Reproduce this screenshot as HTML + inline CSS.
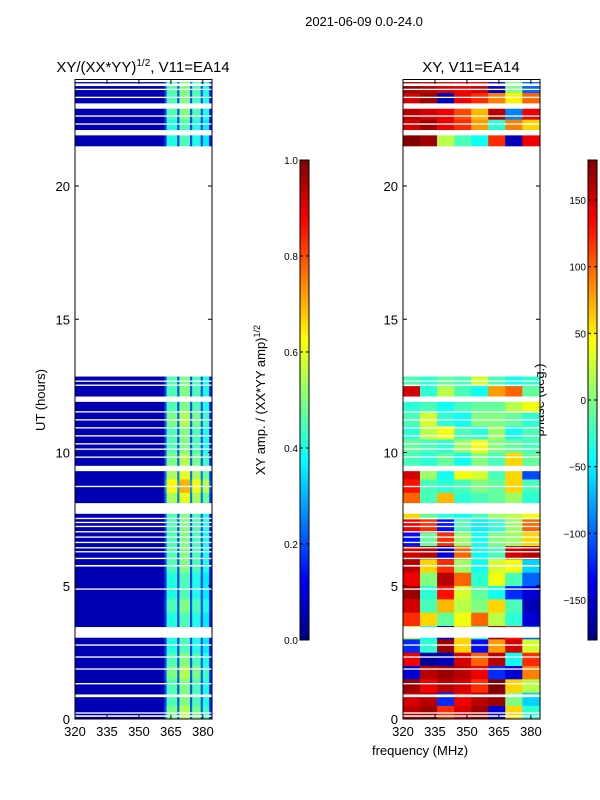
<!DOCTYPE html>
<html><head><meta charset="utf-8"><style>
body{margin:0;background:#fff;}
svg{display:block;font-family:"Liberation Sans",sans-serif;}
</style></head><body>
<svg id="fig" width="600" height="800" xmlns="http://www.w3.org/2000/svg">
<text x="364" y="26" font-size="13" text-anchor="middle">2021-06-09 0.0-24.0</text>
<text x="143" y="72" font-size="15" text-anchor="middle">XY/(XX*YY)<tspan font-size="10" dy="-6">1/2</tspan><tspan dy="6">, V11=EA14</tspan></text>
<text x="471" y="72" font-size="15" text-anchor="middle">XY, V11=EA14</text>
<text transform="translate(45,400) rotate(-90)" font-size="13" text-anchor="middle">UT (hours)</text>
<text transform="translate(265,400) rotate(-90)" font-size="13" text-anchor="middle">XY amp. / (XX*YY amp)<tspan font-size="9" dy="-5">1/2</tspan></text>
<text transform="translate(544,400) rotate(-90)" font-size="13" text-anchor="middle">phase (deg.)</text>
<text x="420" y="755" font-size="13" text-anchor="middle">frequency (MHz)</text>
<g id="layer"></g>
</svg>
<script>
const hourRows=[0,0.5,1,1.5,2,2.5,3,3.5,4,4.5,5,5.5,6,6.5,7,7.5,8,8.5,9,9.5,10,10.5,11,11.5,12,12.5,21.5,22,22.5,23,23.5];
const phaseGrid=[
[160,170,120,150,170,-150,60,-30],[150,160,-120,140,160,170,0,-60],[170,140,160,150,120,180,60,20],
[-150,160,170,160,140,-120,-150,90],[140,-170,-160,150,100,160,-40,120],[-120,-30,170,60,-130,80,150,30],
[20,-40,-150,60,-20,170,130,-100],[120,60,-10,40,100,20,-30,-150],[150,-20,70,20,0,60,-20,-160],
[170,-30,130,30,-10,-40,-120,-150],[140,0,160,100,-30,40,-20,-100],[160,60,120,10,-40,30,40,-60],
[150,160,-150,100,-40,-20,150,160],[-130,-10,120,10,-40,0,10,60],[140,120,-130,-20,-50,-30,10,100],
[60,-10,-30,-40,-20,10,20,40],[100,-20,70,-30,-20,-10,10,-30],[130,-20,-30,-20,0,-10,60,-20],
[150,10,-40,40,30,-20,60,-110],[-20,-30,-10,-40,0,-20,60,-10],[-10,-20,-30,10,40,0,-10,-20],
[-30,20,40,-20,-30,10,-40,-20],[-20,30,-30,-40,0,0,-10,-30],[-30,-20,-40,-20,-10,-10,20,40],
[150,-30,20,-20,-40,80,100,-10],[-20,-30,-10,-20,30,-20,-40,-30],[180,170,20,-20,-40,120,-160,140],
[150,170,140,120,80,-30,90,60],[160,150,140,110,70,160,-90,140],[150,170,-160,140,120,90,50,100],
[170,160,150,140,150,-150,0,-100]];
const ampRowFactor=[1.1,1.0,1.0,1.1,1.0,0.9,0.9,0.9,1.0,0.9,0.9,1.0,1.0,1.0,1.0,1.0,1.2,1.4,1.2,1.1,1.0,1.0,1.1,1.0,1.0,1.0,0.9,0.9,1.0,1.0,1.0];
const ampChanStarts=[320,362,363,368,369,374,375,379,380,383];
const ampChanValues=[0.05,0.2,0.45,0.2,0.5,0.2,0.45,0.2,0.4,0.15];
const phaseChanStarts=[320,328,336,344,352,360,368,376];
const gaps=[[0.08,0.14],[0.2,0.25],[0.82,0.92],[1.3,1.35],[1.85,1.9],[2.3,2.35],[2.75,2.8],[3.05,3.45],[4.85,4.9],[5.72,5.78],[6.0,6.05],[6.25,6.3],[6.4,6.45],[6.6,6.65],[6.8,6.85],[7.0,7.05],[7.2,7.25],[7.35,7.4],[7.5,7.55],[7.7,8.1],[8.7,8.75],[9.3,9.5],[9.8,9.85],[10.1,10.15],[10.3,10.35],[10.6,10.65],[10.9,10.95],[11.2,11.25],[11.5,11.55],[11.9,12.1],[12.5,12.55],[12.65,12.7],[21.9,22.1],[22.3,22.35],[22.6,22.65],[22.9,23.1],[23.3,23.35],[23.6,23.65],[23.75,23.85]];
const blocks=[[0,12.85],[21.3,23.9]];
const xTicks=[320,335,350,365,380];
const yTicks=[0,5,10,15,20];
const ampTicks=[0.0,0.2,0.4,0.6,0.8,1.0];
const phaseTicks=[-150,-100,-50,0,50,100,150];

const NS="http://www.w3.org/2000/svg";
const layer=document.getElementById('layer');
function mk(t,a,p){const e=document.createElementNS(NS,t);for(const k in a)e.setAttribute(k,a[k]);(p||layer).appendChild(e);return e;}
function jet(v){v=Math.max(0,Math.min(1,v));const r=Math.max(0,Math.min(1,1.5-Math.abs(4*v-3))),g=Math.max(0,Math.min(1,1.5-Math.abs(4*v-2))),b=Math.max(0,Math.min(1,1.5-Math.abs(4*v-1)));return `rgb(${Math.round(r*255)},${Math.round(g*255)},${Math.round(b*255)})`;}
const yScale=h=>719-h*(719-79.4)/24;
const panels=[{x0:75,name:'amp'},{x0:403,name:'phase'}];
const fMin=320,fMax=384.3,pw=137;
panels.forEach(p=>{
  const xs=f=>p.x0+(f-fMin)*pw/(fMax-fMin);
  const g=mk('g',{});
  
  
  hourRows.forEach((h,ri)=>{
    const starts=p.name==='amp'?ampChanStarts:phaseChanStarts;
    starts.forEach((f,ci)=>{
      const fe=ci+1<starts.length?starts[ci+1]:fMax;
      blocks.forEach(b=>{
        const a=Math.max(h,b[0]),e=Math.min(h+0.5,b[1]);
        if(e<=a)return;
        const v=p.name==='amp'?ampChanValues[ci]*(ci>0?ampRowFactor[ri]:1):(phaseGrid[ri][ci]+180)/360;
        const r=mk('rect',{x:xs(f),y:yScale(e),width:xs(fe)-xs(f)+0.3,height:yScale(a)-yScale(e)+0.3,fill:jet(v)},g);
        
        
      });
    });
  });
  gaps.forEach(gp=>{const r=mk('rect',{x:p.x0,y:yScale(gp[1]),width:pw,height:yScale(gp[0])-yScale(gp[1]),fill:'#fff'},g);
    
    });
  const fr=mk('rect',{x:p.x0,y:79.5,width:pw,height:639.5,fill:'none',stroke:'#000','stroke-width':1});
  
  
  xTicks.forEach(t=>{const x=xs(t);
    mk('line',{x1:x,x2:x,y1:719,y2:715,stroke:'#000'});mk('line',{x1:x,x2:x,y1:80,y2:84,stroke:'#000'});
    const tx=mk('text',{x:x,y:736,'font-size':13,'text-anchor':'middle'});tx.textContent=t;
    
    });
  yTicks.forEach(t=>{const y=yScale(t);
    mk('line',{x1:p.x0,x2:p.x0+4,y1:y,y2:y,stroke:'#000'});mk('line',{x1:p.x0+pw,x2:p.x0+pw-4,y1:y,y2:y,stroke:'#000'});
    const tx=mk('text',{x:p.x0-5,y:y+5,'font-size':13,'text-anchor':'end'});tx.textContent=t;
    
    });
});
// colorbars
[{x:300,ticks:ampTicks,min:0,max:1,name:'amp-colorbar',fmt:t=>t.toFixed(1)},{x:588,ticks:phaseTicks,min:-180,max:180,name:'phase-colorbar',fmt:t=>String(t).replace('-','\u2212')}].forEach(c=>{
  const g=mk('g',{});
  
  
  for(let i=0;i<96;i++){mk('rect',{x:c.x,y:640-(i+1)*5,width:9,height:5.3,fill:jet((i+0.5)/96)},g);}
  mk('rect',{x:c.x,y:160,width:9,height:480,fill:'none',stroke:'#000'},g);
  c.ticks.forEach(t=>{const y=640-(t-c.min)/(c.max-c.min)*480;
    mk('line',{x1:c.x,x2:c.x+3,y1:y,y2:y,stroke:'#000'},g);mk('line',{x1:c.x+9,x2:c.x+6,y1:y,y2:y,stroke:'#000'},g);
    const tx=mk('text',{x:c.x-2,y:y+4,'font-size':10,'text-anchor':'end'},g);tx.textContent=c.fmt(t);
    
    });
});
</script>
</body></html>
